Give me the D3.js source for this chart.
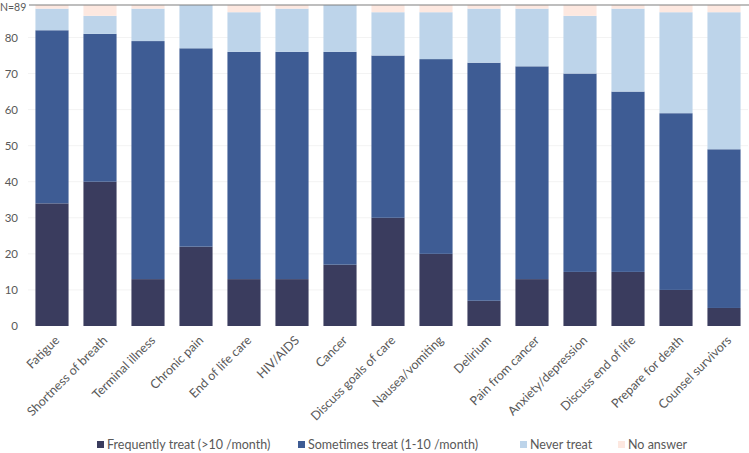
<!DOCTYPE html>
<html>
<head>
<meta charset="utf-8">
<script src="https://cdn.jsdelivr.net/npm/d3@7"></script>
<style>
  body { margin: 0; background: #fff; }
  text { font-family: Lato, "Open Sans", sans-serif; fill: #595959; }
</style>
</head>
<body>
<div id="chart"></div>
<script>
// categories and counts (N=89)
const topics = ["Fatigue", "Shortness of breath", "Terminal illness", "Chronic pain", "End of life care",
  "HIV/AIDS", "Cancer", "Discuss goals of care", "Nausea/vomiting", "Delirium", "Pain from cancer",
  "Anxiety/depression", "Discuss end of life", "Prepare for death", "Counsel survivors"];
const frequently = [34, 40, 13, 22, 13, 13, 17, 30, 20, 7, 13, 15, 15, 10, 5];
const sometimes  = [48, 41, 66, 55, 63, 63, 59, 45, 54, 66, 59, 55, 50, 49, 44];
const never      = [6, 5, 9, 12, 11, 12, 13, 12, 13, 15, 16, 16, 23, 28, 38];
const noAnswer   = [1, 3, 1, 0, 2, 1, 0, 2, 2, 1, 1, 3, 1, 2, 2];
const seriesNames = ["Frequently treat (>10 /month)", "Sometimes treat (1-10 /month)", "Never treat", "No answer"];
const yTicks = [0, 10, 20, 30, 40, 50, 60, 70, 80];

const colors = ["#3a3c5e", "#3e5c94", "#bdd4ea", "#fde8e0"];
const keys = ["frequently", "sometimes", "never", "noAnswer"];

const data = topics.map((t, i) => ({
  topic: t, frequently: frequently[i], sometimes: sometimes[i], never: never[i], noAnswer: noAnswer[i]
}));

const width = 749, height = 453;
const margin = { top: 5, right: 1, bottom: 127, left: 28 };

const svg = d3.select("#chart").append("svg")
  .attr("width", width)
  .attr("height", height);

const x = d3.scaleBand()
  .domain(topics)
  .range([margin.left, width - margin.right])
  .paddingInner(0.31)
  .paddingOuter(0.155);

const y = d3.scaleLinear()
  .domain([0, 89])
  .range([height - margin.bottom, margin.top]);

// faint gridlines
svg.append("g")
  .selectAll("line")
  .data(yTicks.slice(1))
  .join("line")
  .attr("x1", margin.left)
  .attr("x2", width - margin.right)
  .attr("y1", d => y(d))
  .attr("y2", d => y(d))
  .attr("stroke", "#f3f3f3");

const stacked = d3.stack().keys(keys)(data);

svg.append("g")
  .selectAll("g")
  .data(stacked)
  .join("g")
  .attr("fill", (d, i) => colors[i])
  .selectAll("rect")
  .data(d => d)
  .join("rect")
  .attr("x", d => x(d.data.topic))
  .attr("y", d => y(d[1]))
  .attr("width", x.bandwidth())
  .attr("height", d => y(d[0]) - y(d[1]));

// y axis labels
const yAxis = svg.append("g")
  .attr("transform", `translate(${margin.left - 10},0)`)
  .call(d3.axisLeft(y).tickValues(yTicks).tickSize(0).tickPadding(0));
yAxis.select(".domain").remove();
yAxis.selectAll("text")
  .attr("font-size", "11.5px")
  .style("font-family", "Lato, sans-serif")
  .attr("fill", "#595959");

// top line at N=89
svg.append("line")
  .attr("x1", margin.left + 1)
  .attr("x2", width)
  .attr("y1", y(89))
  .attr("y2", y(89))
  .attr("stroke", "#7f7f7f")
  .attr("stroke-width", 1.2);

svg.append("text")
  .attr("x", 0)
  .attr("y", 10.5)
  .attr("font-size", "10.5px")
  .text("N=89");

// rotated category labels
svg.append("g")
  .selectAll("text")
  .data(topics)
  .join("text")
  .attr("transform", d => `translate(${x(d) + x.bandwidth() / 2 + 5},${y(0) + 12}) rotate(-45)`)
  .attr("text-anchor", "end")
  .attr("dy", "0.35em")
  .attr("font-size", "12.5px")
  .text(d => d);

// legend
const legendX = [97, 298, 520, 618];
const legend = svg.append("g")
  .selectAll("g")
  .data(seriesNames)
  .join("g")
  .attr("transform", (d, i) => `translate(${legendX[i]},445)`);

legend.append("rect")
  .attr("x", 0)
  .attr("y", -4)
  .attr("width", 7)
  .attr("height", 7)
  .attr("fill", (d, i) => colors[i]);

legend.append("text")
  .attr("x", 10)
  .attr("y", 0)
  .attr("dy", "0.35em")
  .attr("font-size", "12.5px")
  .text(d => d);
</script>
</body>
</html>
